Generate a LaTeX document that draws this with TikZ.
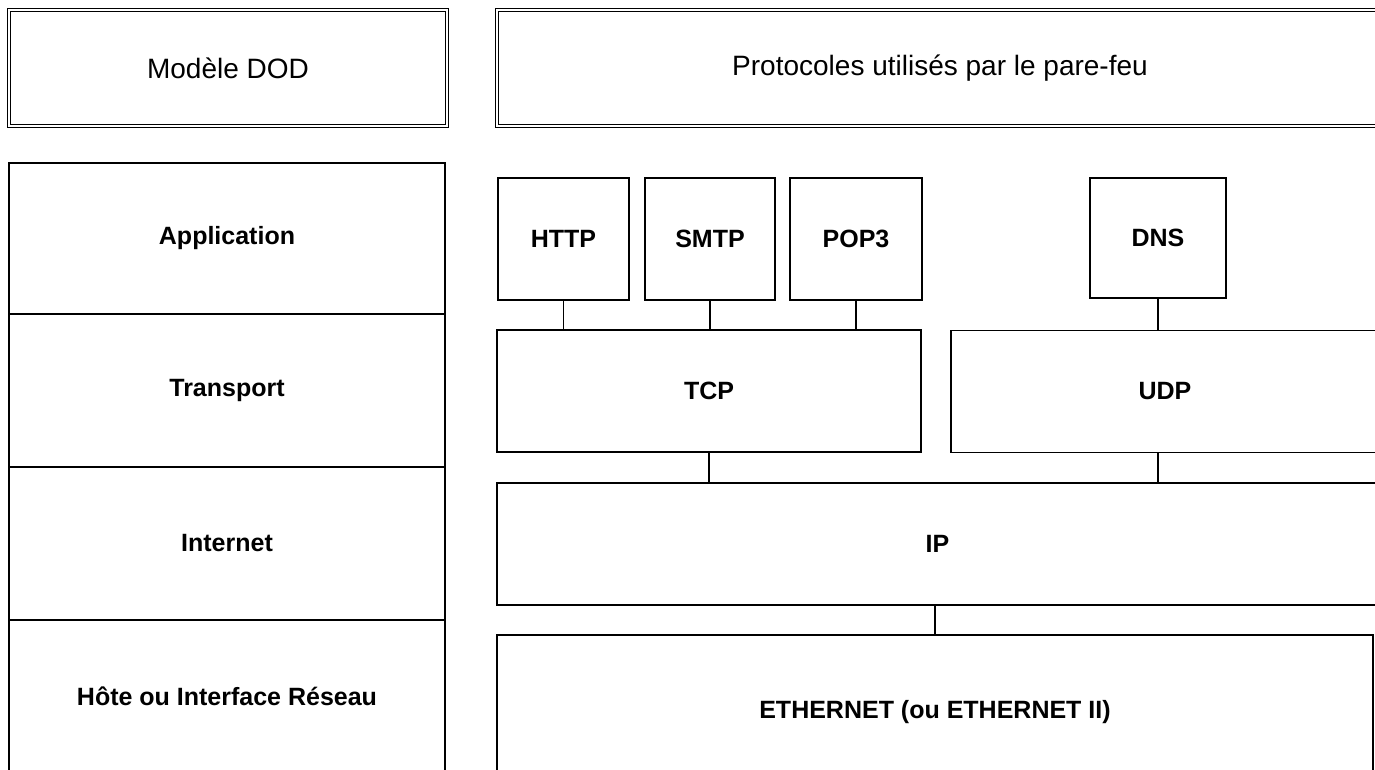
\documentclass[tikz,border=0pt]{standalone}
\usepackage{fontspec}
\setmainfont{Liberation Sans}

\tikzset{
	tete/.style={draw, double, double distance=2.5pt, line width=1pt, minimum height=116pt, inner sep=0pt, font=\fontsize{28}{32}\selectfont},
	couche/.style={draw, line width=1.1pt, minimum width=436pt, inner sep=0pt, font=\fontsize{25}{30}\selectfont\bfseries},
	proto/.style={draw, line width=1.1pt, minimum height=122pt, inner sep=0pt, font=\fontsize{25}{30}\selectfont\bfseries},
	lien/.style={line width=1.1pt}
}

\begin{document}
\begin{tikzpicture}[x=1pt,y=-1pt]
	\useasboundingbox (0,0) rectangle (1375,769);

	\node[tete, minimum width=438pt] (dod) at (228,68) {Modèle DOD};
	\node[tete, minimum width=886pt] (pf) at (940,68) {Protocoles utilisés par le pare-feu};

	\node[couche, minimum height=151pt] (app) at (227,238.5) {Application};
	\node[couche, minimum height=153pt] (trans) at (227,390.5) {Transport};
	\node[couche, minimum height=153pt] (inet) at (227,543.5) {Internet};
	\node[couche, minimum height=152pt] (hote) at (227,696) {Hôte ou Interface Réseau};

	\node[proto, minimum width=131pt] (http) at (563.5,239) {HTTP};
	\node[proto, minimum width=130pt] (smtp) at (710,239) {SMTP};
	\node[proto, minimum width=132pt] (pop) at (856,239) {POP3};
	\node[proto, minimum width=136pt, minimum height=120pt] (dns) at (1158,238) {DNS};

	\node[proto, minimum width=424pt] (tcp) at (709,391) {TCP};
	\node[proto, minimum width=428pt] (udp) at (1165,391.5) {UDP};
	\node[proto, minimum width=881pt] (ip) at (937.5,544) {IP};
	\node[proto, minimum width=876pt, minimum height=155pt] (eth) at (935,712.5) {ETHERNET (ou ETHERNET II)};

	\draw[lien] (http.south) -- (http.south |- tcp.north);
	\draw[lien] (smtp.south) -- (smtp.south |- tcp.north);
	\draw[lien] (pop.south) -- (pop.south |- tcp.north);
	\draw[lien] (dns.south) -- (dns.south |- udp.north);
	\draw[lien] (tcp.south) -- (tcp.south |- ip.north);
	\draw[lien] (dns.south |- udp.south) -- (dns.south |- ip.north);
	\draw[lien] (eth.north |- ip.south) -- (eth.north);
\end{tikzpicture}
\end{document}
